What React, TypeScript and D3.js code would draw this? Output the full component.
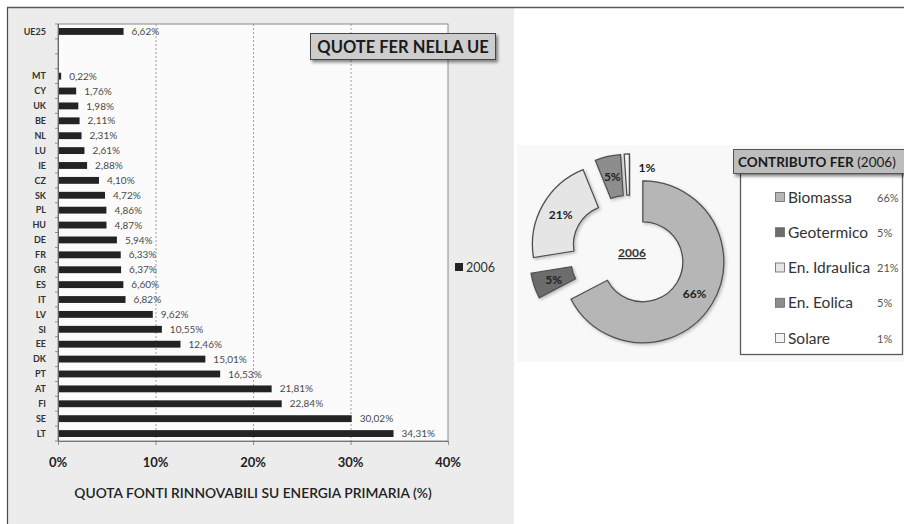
import React from 'react';
import * as d3 from 'd3';

// ---------- Bar chart data ----------
const ueLabel = 'UE25';
const ueValue = 6.62;
const countries = ['MT', 'CY', 'UK', 'BE', 'NL', 'LU', 'IE', 'CZ', 'SK', 'PL', 'HU', 'DE', 'FR', 'GR', 'ES', 'IT', 'LV', 'SI', 'EE', 'DK', 'PT', 'AT', 'FI', 'SE', 'LT'];
const values = [0.22, 1.76, 1.98, 2.11, 2.31, 2.61, 2.88, 4.10, 4.72, 4.86, 4.87, 5.94, 6.33, 6.37, 6.60, 6.82, 9.62, 10.55, 12.46, 15.01, 16.53, 21.81, 22.84, 30.02, 34.31];
const gapSlots = ['__gap1', '__gap2'];
const xTicks = [0, 10, 20, 30, 40];
const seriesName = '2006';
const barTitle = 'QUOTE FER NELLA UE';
const xAxisTitle = 'QUOTA FONTI RINNOVABILI SU ENERGIA PRIMARIA (%)';

// ---------- Donut data ----------
const sources = ['Biomassa', 'Geotermico', 'En. Idraulica', 'En. Eolica', 'Solare'];
const shares = [66, 5, 21, 5, 1];
const sourceColors = ['#b6b6b6', '#6c6c6c', '#e5e5e5', '#8d8d8d', '#f4f4f4'];
const explode = [15, 20, 19, 19, 19];
const donutCenterLabel = '2006';
const legendTitleBold = 'CONTRIBUTO FER';
const legendTitleRest = ' (2006)';

const FONT = "Lato, 'Open Sans', 'DejaVu Sans', sans-serif";

const fmt = (v: number) => v.toFixed(2).replace('.', ',') + '%';

export default function App() {
  const W = 904;
  const H = 524;

  // Bar chart scales
  const x = d3.scaleLinear().domain([0, 40]).range([58, 448]);
  const slots = [ueLabel, ...gapSlots, ...countries];
  const pad = 0.54;
  const y = d3.scaleBand<string>().domain(slots).range([24, 441]).paddingInner(pad).paddingOuter(pad / 2);
  const step = y.step();
  const bars = [{ k: ueLabel, v: ueValue }, ...countries.map((c, i) => ({ k: c, v: values[i] }))];
  const [plotTop, plotBottom] = y.range();
  const [plotLeft, plotRight] = x.range();
  const boundaries = d3.range(slots.length + 1).map((i) => plotTop + i * step);

  // Donut
  const cx = 630;
  const cy = 254;
  const pie = d3.pie<number>().sort(null).startAngle(0).endAngle(2 * Math.PI);
  const arcs = pie(shares);
  const arcGen = d3.arc<d3.PieArcDatum<number>>().innerRadius(40).outerRadius(81);

  const legendY = d3.scaleLinear().domain([0, sources.length - 1]).range([197, 338]);

  return (
    <svg width={W} height={H} style={{ position: 'absolute', left: 0, top: 0, background: '#ffffff' }} xmlns="http://www.w3.org/2000/svg">
      <defs>
        <filter id="shadow" x="-10%" y="-20%" width="130%" height="160%">
          <feDropShadow dx="2" dy="2.5" stdDeviation="1.6" floodColor="#000" floodOpacity="0.45" />
        </filter>
        <filter id="sliceShadow" x="-20%" y="-20%" width="150%" height="150%">
          <feDropShadow dx="1.5" dy="1.5" stdDeviation="1.5" floodColor="#000" floodOpacity="0.25" />
        </filter>
      </defs>

      {/* Left panel */}
      <rect x={7} y={7} width={507} height={H - 7} fill="#ececec" />
      <line x1={7.5} y1={7} x2={7.5} y2={H} stroke="#4a4a4a" strokeWidth={1.2} />
      <line x1={7} y1={7.5} x2={W} y2={7.5} stroke="#5a5a5a" strokeWidth={1.5} />

      {/* Plot area */}
      <rect x={plotLeft} y={plotTop} width={plotRight - plotLeft} height={plotBottom - plotTop} fill="#fbfbfb" stroke="#8a8a8a" strokeWidth={1} />

      {/* Dashed gridlines */}
      {xTicks.filter((t) => t > 0 && t < 40).map((t) => (
        <line key={'g' + t} x1={x(t) + 0.5} x2={x(t) + 0.5} y1={plotTop} y2={plotBottom} stroke="#8c8c8c" strokeWidth={0.8} strokeDasharray="2,2" />
      ))}

      {/* Left axis */}
      <line x1={plotLeft + 0.5} x2={plotLeft + 0.5} y1={plotTop} y2={plotBottom} stroke="#666" strokeWidth={1} />
      {boundaries.map((b, i) => (
        <line key={'lt' + i} x1={plotLeft - 3} x2={plotLeft} y1={b} y2={b} stroke="#777" strokeWidth={0.8} />
      ))}
      {/* Bottom axis */}
      <line x1={plotLeft} x2={plotRight} y1={plotBottom + 0.5} y2={plotBottom + 0.5} stroke="#777" strokeWidth={1} />
      {xTicks.map((t) => (
        <line key={'bt' + t} x1={x(t) + 0.5} x2={x(t) + 0.5} y1={plotBottom} y2={plotBottom + 4} stroke="#777" strokeWidth={0.8} />
      ))}

      {/* Bars */}
      {bars.map((d) => (
        <g key={d.k}>
          <rect x={plotLeft + 1} y={y(d.k)!} width={x(d.v) - plotLeft} height={y.bandwidth()} fill="#232323" />
          <text x={x(d.v) + 9} y={y(d.k)! + y.bandwidth() / 2 + 3.6} fontFamily={FONT} fontSize={10} fill="#4a4a4a">{fmt(d.v)}</text>
          <text x={46} y={y(d.k)! + y.bandwidth() / 2 + 3.3} textAnchor="end" fontFamily={FONT} fontSize={9} fontWeight={700} fill="#333">{d.k}</text>
        </g>
      ))}

      {/* X tick labels */}
      {xTicks.map((t) => (
        <text key={'xl' + t} x={x(t)} y={467} textAnchor="middle" fontFamily={FONT} fontSize={13} fontWeight={700} fill="#222">{t + '%'}</text>
      ))}
      <text x={(plotLeft + plotRight) / 2} y={498} textAnchor="middle" fontFamily={FONT} fontSize={13.8} fontWeight={600} fill="#222">{xAxisTitle}</text>

      {/* Title box */}
      <rect x={310.5} y={33.5} width={185} height={26} fill="#cdcdcd" stroke="#444" strokeWidth={1} filter="url(#shadow)" />
      <text x={403} y={52.5} textAnchor="middle" fontFamily={FONT} fontSize={16.5} fontWeight={700} fill="#1a1a1a">{barTitle}</text>

      {/* Series legend */}
      <rect x={455} y={263} width={8} height={8} fill="#232323" />
      <text x={466} y={271.5} fontFamily={FONT} fontSize={12.5} fill="#333">{seriesName}</text>

      {/* Donut background */}
      <rect x={517} y={145} width={W - 517} height={217} fill="#f8f8f8" />

      {/* Donut slices */}
      {arcs.map((a, i) => {
        const mid = (a.startAngle + a.endAngle) / 2;
        const dx = Math.sin(mid) * explode[i];
        const dy = -Math.cos(mid) * explode[i];
        const [lx, ly] = arcGen.centroid(a);
        const small = a.endAngle - a.startAngle < 0.1;
        return (
          <g key={sources[i]} transform={`translate(${cx + dx},${cy + dy})`}>
            <path d={arcGen(a)!} fill={sourceColors[i]} stroke="#505050" strokeWidth={1.3} filter="url(#sliceShadow)" />
            <text
              x={small ? lx + 11 : lx}
              y={small ? ly - 3 : ly + 4.5}
              textAnchor={small ? 'start' : 'middle'}
              fontFamily={FONT}
              fontSize={12}
              fontWeight={700}
              fill="#222"
            >
              {shares[i] + '%'}
            </text>
          </g>
        );
      })}
      <text x={cx + 2} y={cy + 3} textAnchor="middle" fontFamily={FONT} fontSize={12} fontWeight={700} fill="#333" textDecoration="underline">{donutCenterLabel}</text>

      {/* Donut legend */}
      <rect x={740.5} y={173.5} width={162} height={181} fill="#ffffff" stroke="#5a5a5a" strokeWidth={1.3} />
      <rect x={733.5} y={149.5} width={185} height={24} fill="#bdbdbd" stroke="#555" strokeWidth={1} filter="url(#shadow)" />
      <text x={738} y={166.5} fontFamily={FONT} fontSize={13.5} fill="#1a1a1a">
        <tspan fontWeight={700}>{legendTitleBold}</tspan>
        <tspan>{legendTitleRest}</tspan>
      </text>
      {sources.map((s, i) => (
        <g key={'lg' + s}>
          <rect x={775.5} y={legendY(i) - 4.5} width={9} height={9} fill={sourceColors[i]} stroke="#666" strokeWidth={0.8} />
          <text x={788} y={legendY(i) + 5.5} fontFamily={FONT} fontSize={15.5} fill="#333">{s}</text>
          <text x={877} y={legendY(i) + 4.5} fontFamily={FONT} fontSize={11} fill="#555">{shares[i] + '%'}</text>
        </g>
      ))}
    </svg>
  );
}
